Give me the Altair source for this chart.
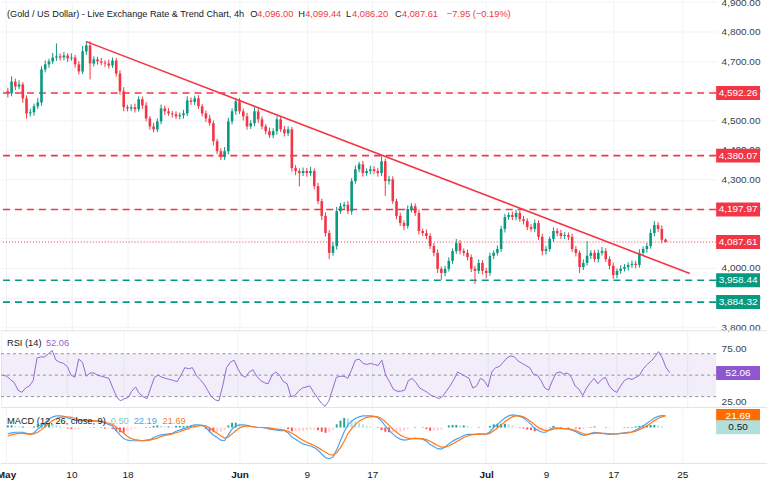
import altair as alt
import pandas as pd

# ---------------- XAU/USD, 8-hour bars (index 0 = first bar on screen) ----------------
close = [
    4591, 4631, 4614, 4621, 4574, 4523, 4527, 4547, 4560, 4672,
    4689, 4699, 4712, 4716, 4712, 4719, 4709, 4712, 4689, 4665,
    4733, 4753, 4692, 4706, 4699, 4695, 4692, 4685, 4702, 4658,
    4598, 4544, 4540, 4544, 4537, 4571, 4550, 4506, 4479, 4469,
    4496, 4540, 4530, 4523, 4520, 4513, 4517, 4523, 4567, 4562,
    4574, 4547, 4523, 4506, 4490, 4429, 4395, 4375, 4395, 4496,
    4530, 4564, 4530, 4513, 4479, 4490, 4530, 4503, 4479, 4463,
    4449, 4463, 4503, 4469, 4456, 4469, 4338, 4328, 4321, 4328,
    4321, 4328, 4277, 4226, 4176, 4118, 4051, 4074, 4192, 4209,
    4214, 4192, 4294, 4334, 4351, 4321, 4328, 4334, 4328, 4321,
    4361, 4294, 4300, 4226, 4176, 4152, 4142, 4199, 4209, 4186,
    4125, 4118, 4108, 4074, 4051, 3997, 3983, 3997, 4024, 4057,
    4084, 4057, 4051, 4037, 3997, 3990, 4017, 3990, 3983, 4041,
    4051, 4064, 4132, 4172, 4179, 4172, 4186, 4165, 4159, 4138,
    4132, 4152, 4105, 4057, 4064, 4098, 4125, 4118, 4108, 4111,
    4105, 4064, 4051, 4003, 4017, 4041, 4051, 4030, 4051, 4057,
    4030, 4007, 3976, 3990, 3997, 4003, 4010, 4014, 4010, 4051,
    4064, 4074, 4118, 4145, 4132, 4095.56, 4087.61,
]
# wick lengths above / below the body (bars 0..175; the last bar comes from the header)
wick_up = [
    12, 18, 10, 14, 8, 10, 12, 9, 15, 11,
    13, 9, 16, 44, 10, 12, 8, 14, 9, 11,
    18, 15, 14, 10, 9, 12, 8, 13, 10, 9,
    11, 14, 8, 10, 12, 10, 9, 11, 8, 12,
    10, 13, 9, 11, 8, 10, 9, 12, 14, 10,
    9, 11, 8, 10, 12, 9, 8, 10, 14, 12,
    10, 10, 11, 9, 12, 10, 14, 9, 10, 8,
    12, 10, 11, 9, 12, 10, 8, 10, 9, 12,
    10, 14, 9, 11, 8, 12, 10, 14, 15, 11,
    9, 12, 10, 13, 8, 11, 9, 12, 10, 11,
    17, 9, 12, 10, 8, 11, 9, 12, 10, 9,
    11, 8, 12, 9, 10, 11, 8, 10, 12, 9,
    14, 10, 9, 11, 8, 10, 12, 9, 10, 11,
    9, 12, 10, 11, 9, 12, 10, 8, 11, 9,
    10, 12, 9, 11, 10, 8, 12, 9, 11, 10,
    9, 11, 10, 8, 12, 50, 9, 10, 11, 14,
    10, 9, 11, 8, 12, 10, 9, 11, 10, 12,
    9, 11, 13, 14, 10, 12,
]
wick_dn = [
    14, 10, 12, 9, 15, 18, 10, 12, 9, 11,
    10, 12, 9, 11, 10, 9, 12, 8, 11, 10,
    9, 12, 54, 10, 11, 9, 12, 10, 8, 11,
    12, 14, 10, 9, 11, 8, 12, 10, 11, 10,
    9, 10, 12, 8, 11, 9, 10, 12, 9, 10,
    11, 9, 10, 12, 9, 14, 10, 10, 9, 11,
    10, 12, 9, 14, 11, 9, 10, 12, 10, 11,
    9, 10, 12, 9, 11, 10, 12, 14, 45, 10,
    12, 9, 11, 10, 14, 12, 21, 10, 12, 9,
    11, 10, 12, 9, 10, 12, 9, 11, 10, 12,
    10, 50, 12, 9, 11, 10, 14, 9, 11, 10,
    12, 9, 11, 10, 12, 14, 23, 11, 9, 10,
    9, 11, 10, 12, 11, 44, 10, 12, 18, 10,
    11, 9, 10, 12, 9, 10, 11, 9, 12, 10,
    9, 11, 10, 14, 12, 9, 10, 11, 9, 10,
    11, 10, 12, 20, 10, 9, 11, 10, 12, 9,
    10, 12, 13, 11, 10, 9, 12, 10, 11, 9,
    10, 12, 9, 11, 10, 12,
]
first_open = 4598.0

# last bar, as printed in the header
last_o, last_h, last_l, last_c = 4096.00, 4099.44, 4086.20, 4087.61

# RSI (14)
rsi = [
    50, 49, 46, 43, 36, 34, 38, 40, 45, 66,
    67, 67, 70, 73, 64, 62, 61, 58, 50, 48,
    65, 62, 49, 52, 52, 50, 49, 48, 47, 38,
    30, 26, 28, 29, 35, 39, 33, 30, 28, 38,
    48, 50, 48, 47, 46, 45, 44, 50, 57, 56,
    57, 50, 46, 42, 36, 30, 27, 26, 40, 57,
    62, 64, 56, 50, 48, 53, 55, 49, 45, 43,
    42, 50, 53, 50, 44, 42, 30, 31, 35, 38,
    39, 40, 34, 29, 24, 21, 26, 37, 48, 49,
    49, 47, 55, 64, 65, 61, 60, 61, 60, 59,
    64, 50, 44, 37, 35, 35, 36, 45, 47, 43,
    38, 36, 34, 31, 30, 28, 30, 35, 40, 46,
    53, 51, 49, 47, 38, 40, 47, 45, 39, 53,
    57, 58, 62, 66, 68, 67, 63, 61, 59, 57,
    51, 50, 45, 38, 36, 45, 52, 53, 51, 52,
    48, 40, 37, 31, 38, 43, 47, 42, 46, 48,
    40, 36, 34, 40, 45, 47, 46, 48, 50, 56,
    60, 63, 67, 72, 66, 57, 52.06,
]

# MACD (12, 26, close, 9): MACD line and signal line
macd = [
    -12, -10, -9, -9, -9, -11, -12.5, -10, -3, 3,
    9, 16, 20, 22, 22, 21, 18, 16, 14, 13,
    13, 14, 12.5, 12, 12, 11, 8, 6, 3, -6,
    -14, -21, -24, -25, -25, -25, -25, -24, -23, -19,
    -16, -14, -13, -12, -11, -7, -5, -2, 0, 3,
    5, 5, 4, 0, -8, -14, -19, -24, -25, -14,
    -3, 3, 5, 5, 4, 2, 1, 0, 0, -1,
    -3, -4, -5, -6, -6, -10, -18, -22, -27, -31,
    -33, -35, -38, -43, -50, -57, -59, -56, -42, -25,
    -8, 5, 12, 17, 20, 22, 22, 22, 21, 19,
    12, 3, -5, -12, -18, -22, -24, -23, -21, -20,
    -21, -22, -26, -32, -36, -40, -41, -37, -31, -26,
    -22, -19, -15, -13, -13, -13, -12, -12.5, -12.5, -8,
    0, 6, 12, 18, 22, 24, 23, 21, 18, 12,
    6, -2, -6, -9, -9, -4, 0, -1, -1, -2,
    -3, -5, -8, -12, -15, -14, -11, -9, -10, -11,
    -12, -13, -12.5, -12, -11, -10, -9, -8, -5, -1,
    3, 8, 13, 18, 21, 22.5, 22.19,
]
signal = [
    -16, -14, -12, -11, -11, -12, -13, -12, -9, -4,
    2, 8, 13, 17, 19, 20, 20, 19, 17, 15,
    14, 14, 13, 13, 12, 12, 10, 8, 6, 1,
    -5, -11, -17, -21, -23, -24, -25, -25, -24, -22,
    -20, -17, -15, -14, -12, -10, -8, -5, -3, 0,
    2, 3, 4, 3, -1, -6, -11, -16, -20, -18,
    -12, -6, -1, 2, 3, 2, 1, 0, 0, 0,
    -1, -2, -3, -4, -5, -7, -11, -15, -20, -24,
    -28, -31, -34, -38, -42, -47, -51, -52, -48, -38,
    -26, -12, -2, 6, 12, 16, 19, 20, 21, 20,
    17, 11, 4, -3, -9, -14, -18, -20, -21, -21,
    -21, -21, -23, -26, -30, -34, -37, -37, -35, -31,
    -27, -23, -19, -16, -14, -13, -13, -12.5, -12.5, -11,
    -6, -1, 5, 11, 16, 20, 22, 22, 20, 16,
    11, 5, 0, -4, -6, -5, -3, -2, -2, -2,
    -2, -4, -6, -9, -12, -13, -12, -11, -10, -11,
    -11, -12, -12, -12, -11, -11, -10, -9, -7, -4,
    -1, 3, 8, 13, 17, 20, 21.69,
]

# horizontal levels and the falling trendline
resistance = [4592.26, 4380.07, 4197.97]
support = [3958.44, 3884.32]
trend_idx = [21, 182.5]
trend_px = [4766, 3981]

# time-axis labels (bar index -> label)
tick_idx = [-0.5, 17, 32, 62, 80, 97.5, 128, 144, 162, 180.5]
tick_lbl = ["May", "10", "18", "Jun", "9", "17", "Jul", "9", "17", "25"]

rsi_levels = [70, 50, 30]

# ---------------- derived tables ----------------
n = len(close)
assert len(wick_up) == n - 1 and len(wick_dn) == n - 1
assert len(rsi) == n and len(macd) == n and len(signal) == n

UP, DOWN = "#089981", "#F23645"
opens = [first_open] + close[:-1]
opens[-1] = last_o
highs = [max(o, c) + u for o, c, u in zip(opens[:-1], close[:-1], wick_up)] + [last_h]
lows = [min(o, c) - d for o, c, d in zip(opens[:-1], close[:-1], wick_dn)] + [last_l]
candles = pd.DataFrame({"i": list(range(n)), "o": opens, "h": highs, "l": lows, "c": close})
candles["col"] = [UP if c >= o else DOWN for o, c in zip(opens, close)]

hist = [m - s for m, s in zip(macd, signal)]
hcol = []
for k, h in enumerate(hist):
    prev = hist[k - 1] if k else h
    if h >= 0:
        hcol.append("#26A69A" if h >= prev else "#B2DFDB")
    else:
        hcol.append("#FF5252" if h < prev else "#FFCDD2")
ind = pd.DataFrame({"i": list(range(n)), "rsi": rsi, "macd": macd, "sig": signal,
                    "h": hist, "hc": hcol})

# ---------------- layout & style ----------------
FONT = "Liberation Sans"
W = 717
H_PRICE, H_RSI, H_MACD = 330, 77, 56
TEXT = "#131722"
AXIS_TXT = "#3c3f47"
GRID = "#F0F2F6"
RSI_C = "#9467d4"
MACD_C = "#4da3ee"
SIG_C = "#ff7a1a"
BOX = "M-1,-0.318L1,-0.318L1,0.318L-1,0.318Z"
BOX_W = 44

label_expr = "''"
for v, t in reversed(list(zip(tick_idx, tick_lbl))):
    label_expr = f"datum.value == {v} ? '{t}' : ({label_expr})"
month_test = " || ".join(f"datum.value == {v}" for v, t in zip(tick_idx, tick_lbl) if not t.isdigit())

X_SCALE = alt.Scale(domain=[-0.5, 188.2], nice=False, zero=False)


def x_axis(labels):
    kw = dict(values=tick_idx, grid=True, gridColor=GRID, ticks=False, domain=False,
              title=None, labels=labels)
    if labels:
        kw.update(labelExpr=label_expr, labelFlush=False, labelAlign="center",
                  labelOverlap=False, labelPadding=6,
                  labelFont=FONT, labelFontSize=10, labelColor=TEXT,
                  labelFontWeight={"condition": {"test": month_test, "value": "bold"},
                                   "value": "normal"})
    return alt.Axis(**kw)


X_TOP = alt.X("i:Q", scale=X_SCALE, axis=x_axis(False))
X_BOT = alt.X("i:Q", scale=X_SCALE, axis=x_axis(True))

PRICE_SCALE = alt.Scale(domain=[3787.3, 4901.4], nice=False, zero=False)
PRICE_AXIS = alt.Axis(orient="right", values=list(range(3800, 4901, 100)), format=",.2f",
                      grid=True, gridColor=GRID, ticks=False, domain=False, title=None,
                      labelPadding=5, labelOverlap=False, labelFont=FONT, labelFontSize=10,
                      labelColor=AXIS_TXT)
RSI_SCALE = alt.Scale(domain=[19.8, 91.4], nice=False, zero=False)
RSI_AXIS = alt.Axis(orient="right", values=[25, 75], format=".2f", grid=False, ticks=False,
                    domain=False, title=None, labelPadding=5, labelOverlap=False,
                    labelFont=FONT, labelFontSize=10, labelColor=AXIS_TXT)
MACD_SCALE = alt.Scale(domain=[-67.9, 37.7], nice=False, zero=False)


def py(f):
    return alt.Y(f"{f}:Q", scale=PRICE_SCALE, axis=PRICE_AXIS)


def ry(f):
    return alt.Y(f"{f}:Q", scale=RSI_SCALE, axis=RSI_AXIS)


def my(f):
    return alt.Y(f"{f}:Q", scale=MACD_SCALE, axis=None)


def txt(s, px, ypx, color, size=9.3, weight="normal"):
    return alt.Chart(pd.DataFrame({"t": [s]})).mark_text(
        align="left", baseline="middle", font=FONT, fontSize=size, fontWeight=weight, color=color
    ).encode(x=alt.value(px), y=alt.value(ypx), text="t:N")


def value_boxes(df, yenc):
    boxes = alt.Chart(df).mark_point(shape=BOX, size=BOX_W ** 2, filled=True, opacity=1,
                                     strokeWidth=0).encode(
        x=alt.value(W + BOX_W / 2), y=yenc, fill=alt.Fill("bg:N", scale=None),
        yOffset=alt.YOffset("dy:Q", scale=None))
    labels = alt.Chart(df).mark_text(font=FONT, fontSize=10, align="center",
                                     baseline="middle").encode(
        x=alt.value(W + BOX_W / 2), y=yenc, text="t:N", color=alt.Color("fg:N", scale=None),
        yOffset=alt.YOffset("dy:Q", scale=None))
    return [boxes, labels]


def separator(ypx):
    return alt.Chart(pd.DataFrame({"k": [0]})).mark_rule(color="#E0E3EB", strokeWidth=1).encode(
        x=alt.value(0), x2=alt.value(768), y=alt.value(ypx))


# ---------------- price pane ----------------
levels_df = pd.DataFrame({"p": resistance + support,
                          "col": [DOWN] * len(resistance) + [UP] * len(support)})
levels = alt.Chart(levels_df).mark_rule(strokeDash=[7, 5], strokeWidth=1.6).encode(
    y=py("p"), color=alt.Color("col:N", scale=None))
current = alt.Chart(pd.DataFrame({"p": [last_c]})).mark_rule(
    color=DOWN, strokeDash=[1, 2], strokeWidth=1).encode(y=py("p"))
wicks = alt.Chart(candles).mark_rule(strokeWidth=1).encode(
    x=X_TOP, y=py("l"), y2="h:Q", color=alt.Color("col:N", scale=None))
bodies = alt.Chart(candles).mark_bar(size=2.6).encode(
    x=X_TOP, y=py("o"), y2="c:Q", color=alt.Color("col:N", scale=None))
trend = alt.Chart(pd.DataFrame({"i": trend_idx, "p": trend_px})).mark_line(
    color=DOWN, strokeWidth=1.6).encode(x=X_TOP, y=py("p"))

prev_c = close[-2]
chg = last_c - prev_c
pct = chg / prev_c * 100
chg_txt = f"{chg:+.2f} ({pct:+.2f}%)".replace("-", "\u2212")
header = [
    txt("(Gold / US Dollar) - Live Exchange Rate & Trend Chart, 4h", 6, 12, TEXT, size=9.2),
    txt("O", 250, 12, TEXT), txt(f"{last_o:,.2f}", 257, 12, DOWN),
    txt("H", 298, 12, TEXT), txt(f"{last_h:,.2f}", 305, 12, DOWN),
    txt("L", 346, 12, TEXT), txt(f"{last_l:,.2f}", 352, 12, DOWN),
    txt("C", 395, 12, TEXT), txt(f"{last_c:,.2f}", 402, 12, DOWN),
    txt(chg_txt, 447, 12, DOWN),
]
price_boxes = pd.DataFrame({
    "p": resistance + [last_c] + support,
    "bg": [DOWN] * len(resistance) + [DOWN] + [UP] * len(support),
    "fg": ["#ffffff"] * (len(resistance) + 1 + len(support)),
    "dy": [0] * (len(resistance) + 1 + len(support)),
})
price_boxes["t"] = [f"{v:,.2f}" for v in price_boxes["p"]]

price = alt.layer(levels, current, wicks, bodies, trend, *header,
                  *value_boxes(price_boxes, py("p"))).properties(width=W, height=H_PRICE)

# ---------------- RSI pane ----------------
band = alt.Chart(pd.DataFrame({"hi": [rsi_levels[0]], "lo": [rsi_levels[-1]]})).mark_rect(
    color="#7E57C2", opacity=0.1).encode(x=alt.value(0), x2=alt.value(W), y=ry("hi"), y2="lo:Q")
guides = alt.Chart(pd.DataFrame({"v": rsi_levels})).mark_rule(
    strokeDash=[3, 3], color="#8F939E", strokeWidth=1).encode(y=ry("v"))
rsi_line = alt.Chart(ind).mark_line(color=RSI_C, strokeWidth=1).encode(x=X_TOP, y=ry("rsi"))
rsi_box = pd.DataFrame({"v": [rsi[-1]], "bg": ["#8e57cf"], "fg": ["#ffffff"], "dy": [0],
                        "t": [f"{rsi[-1]:.2f}"]})
rsi_pane = alt.layer(
    band, guides, rsi_line, separator(0),
    txt("RSI (14)", 6, 12, TEXT), txt(f"{rsi[-1]:.2f}", 45, 12, RSI_C),
    *value_boxes(rsi_box, ry("v")),
).properties(width=W, height=H_RSI)

# ---------------- MACD pane ----------------
bars = alt.Chart(ind).mark_bar(size=2).encode(
    x=X_BOT, y=my("h"), color=alt.Color("hc:N", scale=None))
macd_line = alt.Chart(ind).mark_line(color=MACD_C, strokeWidth=1.2).encode(x=X_BOT, y=my("macd"))
sig_line = alt.Chart(ind).mark_line(color=SIG_C, strokeWidth=1.2).encode(x=X_BOT, y=my("sig"))
macd_box = pd.DataFrame({
    "v": [signal[-1], hist[-1]],
    "bg": ["#FF6D00", "#B2DFDB"],
    "fg": ["#ffffff", TEXT],
    "dy": [-1.5, 1.5],
    "t": [f"{signal[-1]:.2f}", f"{hist[-1]:.2f}"],
})
macd_pane = alt.layer(
    bars, macd_line, sig_line, separator(0), separator(H_MACD),
    txt("MACD (12, 26, close, 9)", 6, 13, TEXT),
    txt(f"{hist[-1]:.2f}", 110, 13, "#80CBC4"),
    txt(f"{macd[-1]:.2f}", 133, 13, MACD_C),
    txt(f"{signal[-1]:.2f}", 162, 13, SIG_C),
    *value_boxes(macd_box, my("v")),
).properties(width=W, height=H_MACD)

chart = alt.vconcat(price, rsi_pane, macd_pane, spacing=0, bounds="flush").properties(
    padding={"left": -5, "top": -5, "right": 0, "bottom": 0},
    background="white",
).configure_view(stroke="transparent")

chart.save("out.html", embed_options={"renderer": "svg", "actions": False})
